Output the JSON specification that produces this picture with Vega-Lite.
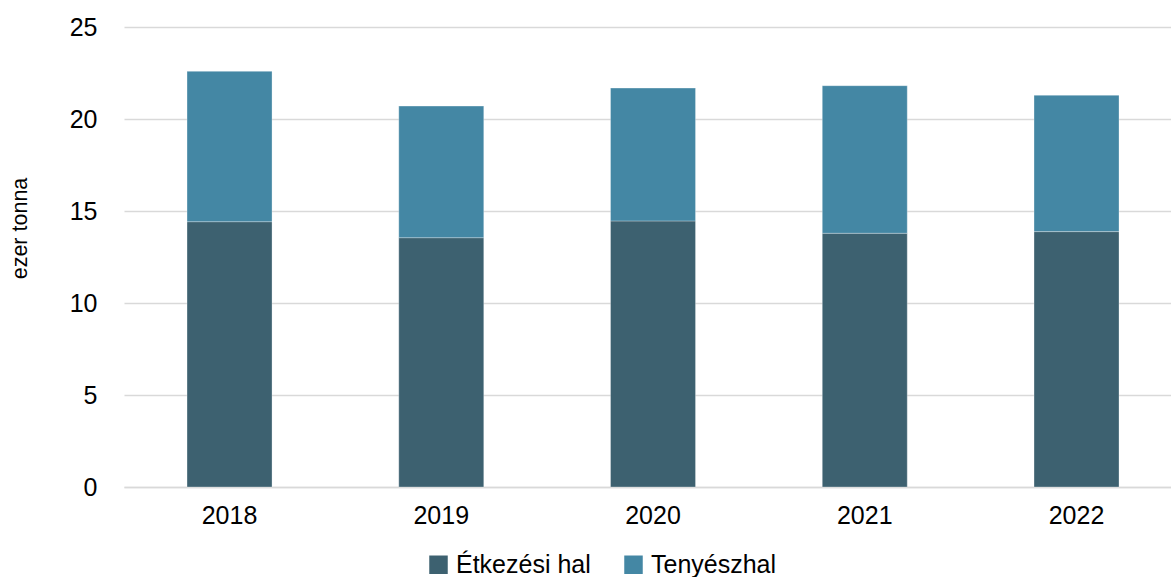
{
  "$schema": "https://vega.github.io/schema/vega-lite/v6.json",
  "autosize": "none",
  "padding": {"left": 124, "top": 27, "right": 0, "bottom": 90},
  "width": 1047,
  "height": 460,
  "background": "white",
  "config": {"view": {"stroke": null}, "font": "Liberation Sans"},
  "data": {"values": [
    {"year": "2018", "type": "Étkezési hal", "value": 14.42},
    {"year": "2019", "type": "Étkezési hal", "value": 13.55},
    {"year": "2020", "type": "Étkezési hal", "value": 14.46},
    {"year": "2021", "type": "Étkezési hal", "value": 13.79},
    {"year": "2022", "type": "Étkezési hal", "value": 13.88},
    {"year": "2018", "type": "Tenyészhal", "value": 8.17},
    {"year": "2019", "type": "Tenyészhal", "value": 7.15},
    {"year": "2020", "type": "Tenyészhal", "value": 7.22},
    {"year": "2021", "type": "Tenyészhal", "value": 8.02},
    {"year": "2022", "type": "Tenyészhal", "value": 7.41}
  ]},
  "mark": {"type": "bar", "stroke": "#ffffff", "strokeWidth": 0.6, "strokeOpacity": 0.5},
  "encoding": {
    "x": {"field": "year", "type": "nominal",
      "scale": {"paddingInner": 0.5986, "paddingOuter": 0.2716, "align": 0.548},
      "axis": {"title": null, "labelAngle": 0, "labelFontSize": 25, "labelColor": "#000000", "ticks": false, "labelPadding": 16, "domainColor": "#d9d9d9", "domainWidth": 1.5}},
    "y": {"field": "value", "type": "quantitative", "stack": "zero",
      "scale": {"domain": [0, 25]},
      "axis": {"title": "ezer tonna", "titleFontSize": 21.5, "titleFontWeight": "normal", "titleColor": "#000000", "titlePadding": 38, "titleY": 201,
        "values": [0, 5, 10, 15, 20, 25], "labelFontSize": 25, "labelColor": "#000000", "ticks": false, "labelPadding": 27,
        "domain": false, "gridColor": "#d9d9d9", "gridWidth": 1.5}},
    "color": {"field": "type", "type": "nominal",
      "scale": {"domain": ["Étkezési hal", "Tenyészhal"], "range": ["#3d6170", "#4487a4"]},
      "legend": {"title": null, "orient": "none", "legendX": 302, "legendY": 525, "padding": 0, "direction": "horizontal", "symbolType": "square", "symbolSize": 342, "symbolStrokeWidth": 0, "labelFontSize": 25, "labelColor": "#000000", "columnPadding": 30, "labelOffset": 5}},
    "order": {"field": "type", "sort": "descending"}
  }
}
